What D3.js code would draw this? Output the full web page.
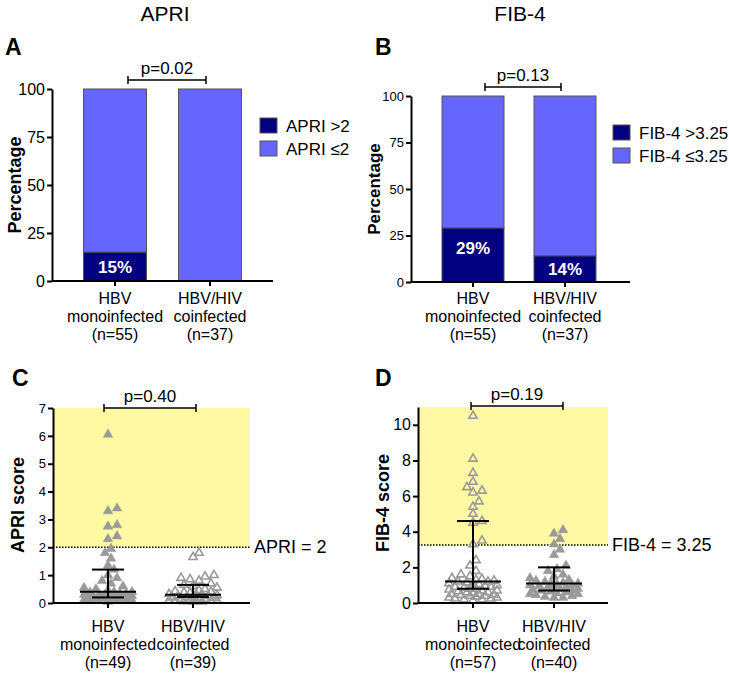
<!DOCTYPE html>
<html>
<head>
<meta charset="utf-8">
<script src="https://cdn.jsdelivr.net/npm/d3@7"></script>
<style>
body{margin:0;background:#fff;}
svg{font-family:Arial,"Liberation Sans",Helvetica,sans-serif;}
</style>
</head>
<body>
<script>
// groups and counts
var groups = ["HBV monoinfected", "HBV/HIV coinfected"];
var groupLines = [["HBV", "monoinfected"], ["HBV/HIV", "coinfected"]];
var barN = [55, 37];
var apriN = [49, 39];
var fibN = [57, 40];

// percentage of patients above cut-off
var apriHighPct = [15, 0];
var fibHighPct = [29, 14];
var pctTicks = [0, 25, 50, 75, 100];
var apriTicks = [0, 1, 2, 3, 4, 5, 6, 7];
var fibTicks = [0, 2, 4, 6, 8, 10];

// individual scores
var apriMono = [6.05, 3.4, 3.3, 2.8, 2.75, 2.4, 2.3, 1.95, 1.8, 1.6,
    1.35, 1.2, 1.0, 0.9, 0.8, 0.7, 0.6, 0.55, 0.5, 0.45,
    0.4, 0.4, 0.38, 0.35, 0.35, 0.3, 0.3, 0.3, 0.28, 0.25,
    0.25, 0.25, 0.22, 0.2, 0.2, 0.2, 0.18, 0.18, 0.15, 0.15,
    0.15, 0.12, 0.12, 0.1, 0.1, 0.1, 0.08, 0.08, 0.05];
var apriCo = [1.8, 1.65, 1.0, 0.95, 0.9, 0.85, 0.8, 0.7, 0.65, 0.6,
    0.55, 0.5, 0.45, 0.42, 0.4, 0.38, 0.35, 0.32, 0.3, 0.3,
    0.28, 0.25, 0.25, 0.22, 0.2, 0.2, 0.2, 0.18, 0.15, 0.15,
    0.12, 0.12, 0.1, 0.1, 0.08, 0.08, 0.06, 0.05, 0.05];
var fibMono = [10.5, 8.1, 7.3, 6.8, 6.5, 6.3, 6.2, 5.7, 5.4, 5.0,
    4.6, 4.5, 3.5, 3.3, 2.4, 2.1, 1.8, 1.6, 1.5, 1.4,
    1.35, 1.3, 1.25, 1.2, 1.2, 1.15, 1.1, 1.05, 1.0, 1.0,
    0.95, 0.9, 0.9, 0.85, 0.8, 0.8, 0.75, 0.7, 0.7, 0.65,
    0.6, 0.6, 0.55, 0.5, 0.5, 0.45, 0.45, 0.4, 0.4, 0.35,
    0.3, 0.3, 0.25, 0.25, 0.2, 0.2, 0.15];
var fibCo = [4.1, 3.9, 3.6, 3.3, 3.0, 2.7, 2.1, 1.9, 1.8, 1.6,
    1.5, 1.4, 1.3, 1.25, 1.2, 1.15, 1.1, 1.1, 1.05, 1.0,
    1.0, 0.95, 0.9, 0.9, 0.85, 0.8, 0.8, 0.75, 0.7, 0.7,
    0.65, 0.6, 0.55, 0.5, 0.5, 0.45, 0.4, 0.35, 0.3, 0.3];

// median and interquartile range
var apriMedian = [0.4, 0.3], apriQ1 = [0.2, 0.22], apriQ3 = [1.2, 0.65];
var fibMedian = [1.2, 1.1], fibQ1 = [0.8, 0.7], fibQ3 = [4.6, 2.0];
var apriCut = 2, fibCut = 3.25;
var pLabels = ["p=0.02", "p=0.13", "p=0.40", "p=0.19"];

var DARK = "#000080", LIGHT = "#6666ff", YELLOW = "#fff9a3", GREY = "#9a9a9a";

var svg = d3.select("body").append("svg")
    .attr("width", 729)
    .attr("height", 675);

function catLabels(g, x, ys, n, size){
    groups.forEach(function(d, i){
        var lines = groupLines[i].concat(["(n=" + n[i] + ")"]);
        lines.forEach(function(t, k){
            g.append("text")
                .attr("x", x(d))
                .attr("y", ys + k * 18)
                .attr("text-anchor", "middle")
                .style("font-size", size + "px")
                .text(t);
        });
    });
}

function bracket(g, x1, x2, yb, label, size){
    g.append("line").attr("x1", x1).attr("x2", x2).attr("y1", yb).attr("y2", yb)
        .style("stroke", "#000").style("stroke-width", 1.5);
    [x1, x2].forEach(function(xx){
        g.append("line").attr("x1", xx).attr("x2", xx).attr("y1", yb - 4).attr("y2", yb + 4)
            .style("stroke", "#000").style("stroke-width", 1.5);
    });
    g.append("text")
        .attr("x", (x1 + x2) / 2)
        .attr("y", yb - 6)
        .attr("text-anchor", "middle")
        .style("font-size", size + "px")
        .text(label);
}

function styleAxis(a, size){
    a.select(".domain").style("stroke", "#000").style("stroke-width", 2);
    a.selectAll(".tick line").style("stroke", "#000").style("stroke-width", 2);
    a.selectAll(".tick text").style("font-size", size + "px").style("fill", "#000")
        .attr("x", -7);
}

function barPanel(o){
    var g = svg.append("g");
    var y = d3.scaleLinear().domain([0, 100]).range([o.y0, o.y1]);
    var x = d3.scalePoint().domain(groups).range(o.xr);

    // light (<= cut-off) stacks
    g.selectAll(".low").data(o.high).enter().append("rect")
        .attr("x", function(d, i){ return x(groups[i]) - o.bw / 2; })
        .attr("width", o.bw)
        .attr("y", y(100))
        .attr("height", function(d){ return y(d) - y(100); })
        .style("fill", LIGHT).style("stroke", "#555").style("stroke-width", 1);
    // dark (> cut-off) stacks
    g.selectAll(".high").data(o.high).enter().append("rect")
        .attr("x", function(d, i){ return x(groups[i]) - o.bw / 2; })
        .attr("width", o.bw)
        .attr("y", function(d){ return y(d); })
        .attr("height", function(d){ return y(0) - y(d); })
        .style("fill", DARK).style("stroke", "#555").style("stroke-width", 1);
    g.selectAll(".pct").data(o.high.filter(function(d){ return d > 0; })).enter().append("text")
        .attr("x", function(d){ return x(groups[o.high.indexOf(d)]); })
        .attr("y", function(d){ var h = y(0) - y(d); return y(d) + Math.min(h / 2, 20) + 6; })
        .attr("text-anchor", "middle")
        .style("font-size", "17px").style("font-weight", "bold").style("fill", "#fff")
        .text(function(d){ return d + "%"; });

    var ax = g.append("g").attr("transform", "translate(" + o.ax + ",0)")
        .call(d3.axisLeft(y).tickValues(pctTicks).tickFormat(d3.format("d")).tickSize(5).tickSizeOuter(0));
    styleAxis(ax, o.tick);
    g.append("line").attr("x1", o.ax).attr("x2", o.xEnd).attr("y1", y(0)).attr("y2", y(0))
        .style("stroke", "#000").style("stroke-width", 2);
    groups.forEach(function(d){
        g.append("line").attr("x1", x(d)).attr("x2", x(d)).attr("y1", y(0)).attr("y2", y(0) + 5)
            .style("stroke", "#000").style("stroke-width", 2);
    });

    g.append("text")
        .attr("transform", "translate(" + o.labX + "," + ((o.y0 + o.y1) / 2) + ") rotate(-90)")
        .attr("text-anchor", "middle").attr("dy", "0.35em")
        .style("font-size", o.labSize + "px").style("font-weight", "bold")
        .text("Percentage");

    catLabels(g, x, 304, barN, 16);
    bracket(g, o.br[0], o.br[1], o.brY, o.p, 17);

    // legend
    o.legend.forEach(function(t, i){
        g.append("rect").attr("x", o.legX).attr("y", o.legY + i * 23).attr("width", 17).attr("height", 15)
            .style("fill", i === 0 ? DARK : LIGHT).style("stroke", "#555").style("stroke-width", 1);
        g.append("text").attr("x", o.legX + 26).attr("y", o.legY + i * 23 + 14)
            .style("font-size", "17px").text(t);
    });

    svg.append("text").attr("x", o.titleX).attr("y", 21).attr("text-anchor", "middle")
        .style("font-size", "21px").text(o.title);
    svg.append("text").attr("x", o.letterX).attr("y", 55)
        .style("font-size", "23px").style("font-weight", "bold").text(o.letter);
}

// simple beeswarm, kept inside a fixed half-width like the original plot
function swarm(vals, cx, y, maxOff){
    var placed = [];
    var sorted = vals.slice().sort(function(a, b){ return a - b; });
    return sorted.map(function(v){
        var py = y(v), best = null, bestD = -1;
        for (var k = 0; ; k++){
            var off = (k === 0) ? 0 : Math.ceil(k / 2) * 3 * (k % 2 ? 1 : -1);
            if (Math.abs(off) > maxOff) break;
            var px = cx + off;
            var dmin = d3.min(placed, function(p){
                return Math.hypot(p[0] - px, p[1] - py);
            });
            if (dmin === undefined) dmin = 99;
            if (dmin >= 7){ best = px; break; }
            if (dmin > bestD){ bestD = dmin; best = px; }
        }
        placed.push([best, py]);
        return {x: best, y: py};
    });
}

function scatterPanel(o){
    var g = svg.append("g");
    var y = d3.scaleLinear().domain(o.dom).range([603, o.yTop]);
    var x = d3.scalePoint().domain(groups).range(o.xr);

    g.append("rect").attr("x", o.ax).attr("width", o.xEnd - o.ax)
        .attr("y", y(o.dom[1])).attr("height", y(o.cut) - y(o.dom[1]))
        .style("fill", YELLOW);
    g.append("line").attr("x1", o.ax).attr("x2", o.xEnd).attr("y1", y(o.cut)).attr("y2", y(o.cut))
        .style("stroke", "#000").style("stroke-width", 1.5).style("stroke-dasharray", "1.5,1.5");
    g.append("text").attr("x", o.xEnd + 4).attr("y", y(o.cut) + 6)
        .style("font-size", "18px").text(o.cutLabel);

    var tri = d3.symbol().type(d3.symbolTriangle);
    o.sets.forEach(function(vals, i){
        var pts = swarm(vals, x(groups[i]), y, 26);
        var filled = o.filled[i];
        g.selectAll(".pt" + i).data(pts).enter().append("path")
            .attr("d", tri.size(filled ? 40 : 30)())
            .attr("transform", function(d){ return "translate(" + d.x + "," + d.y + ")"; })
            .style("fill", filled ? GREY : "none")
            .style("stroke", GREY)
            .style("stroke-width", filled ? 0.5 : 1.6);
    });

    // median and IQR
    groups.forEach(function(d, i){
        var cx = x(d);
        var seg = [[cx - 28, cx + 28, o.med[i]], [cx - 16, cx + 16, o.q1[i]], [cx - 16, cx + 16, o.q3[i]]];
        seg.forEach(function(s){
            g.append("line").attr("x1", s[0]).attr("x2", s[1]).attr("y1", y(s[2])).attr("y2", y(s[2]))
                .style("stroke", "#000").style("stroke-width", 2);
        });
        g.append("line").attr("x1", cx).attr("x2", cx).attr("y1", y(o.q1[i])).attr("y2", y(o.q3[i]))
            .style("stroke", "#000").style("stroke-width", 2);
    });

    var ax = g.append("g").attr("transform", "translate(" + o.ax + ",0)")
        .call(d3.axisLeft(y).tickValues(o.ticks).tickFormat(d3.format("d")).tickSize(5).tickSizeOuter(0));
    styleAxis(ax, o.tick);
    g.append("line").attr("x1", o.ax).attr("x2", o.xEnd).attr("y1", y(0)).attr("y2", y(0))
        .style("stroke", "#000").style("stroke-width", 2);
    groups.forEach(function(d){
        g.append("line").attr("x1", x(d)).attr("x2", x(d)).attr("y1", y(0)).attr("y2", y(0) + 5)
            .style("stroke", "#000").style("stroke-width", 2);
    });

    g.append("text")
        .attr("transform", "translate(" + o.labX + "," + o.labY + ") rotate(-90)")
        .attr("text-anchor", "middle").attr("dy", "0.35em")
        .style("font-size", "18px").style("font-weight", "bold")
        .text(o.yLabel);

    catLabels(g, x, 632, o.n, 16);
    bracket(g, o.br[0], o.br[1], o.brY, o.p, 17);

    svg.append("text").attr("x", o.letterX).attr("y", 386)
        .style("font-size", "23px").style("font-weight", "bold").text(o.letter);
}

barPanel({y0: 281, y1: 89, xr: [115, 210], bw: 63, ax: 52, xEnd: 273, tick: 16,
    high: apriHighPct, labX: 15, labSize: 18, br: [128, 206], brY: 80, p: pLabels[0],
    legend: ["APRI >2", "APRI \u22642"], legX: 260, legY: 118,
    title: "APRI", titleX: 165, letter: "A", letterX: 5});
barPanel({y0: 282, y1: 96, xr: [473, 565], bw: 62, ax: 411, xEnd: 630, tick: 13,
    high: fibHighPct, labX: 374, labSize: 17, br: [485, 561], brY: 87, p: pLabels[1],
    legend: ["FIB-4 >3.25", "FIB-4 \u22643.25"], legX: 613, legY: 125,
    title: "FIB-4", titleX: 520, letter: "B", letterX: 375});

scatterPanel({dom: [0, 7], yTop: 408, xr: [108, 193], ax: 53, xEnd: 250, tick: 13,
    ticks: apriTicks, cut: apriCut, cutLabel: "APRI = 2",
    sets: [apriMono, apriCo], filled: [true, false],
    med: apriMedian, q1: apriQ1, q3: apriQ3, n: apriN,
    yLabel: "APRI score", labX: 18, labY: 505,
    br: [104, 196], brY: 408, p: pLabels[2], letter: "C", letterX: 12});
scatterPanel({dom: [0, 11], yTop: 407, xr: [473, 554], ax: 418, xEnd: 608, tick: 16,
    ticks: fibTicks, cut: fibCut, cutLabel: "FIB-4 = 3.25",
    sets: [fibMono, fibCo], filled: [false, true],
    med: fibMedian, q1: fibQ1, q3: fibQ3, n: fibN,
    yLabel: "FIB-4 score", labX: 383, labY: 503,
    br: [471, 563], brY: 406, p: pLabels[3], letter: "D", letterX: 375});
</script>
</body>
</html>
